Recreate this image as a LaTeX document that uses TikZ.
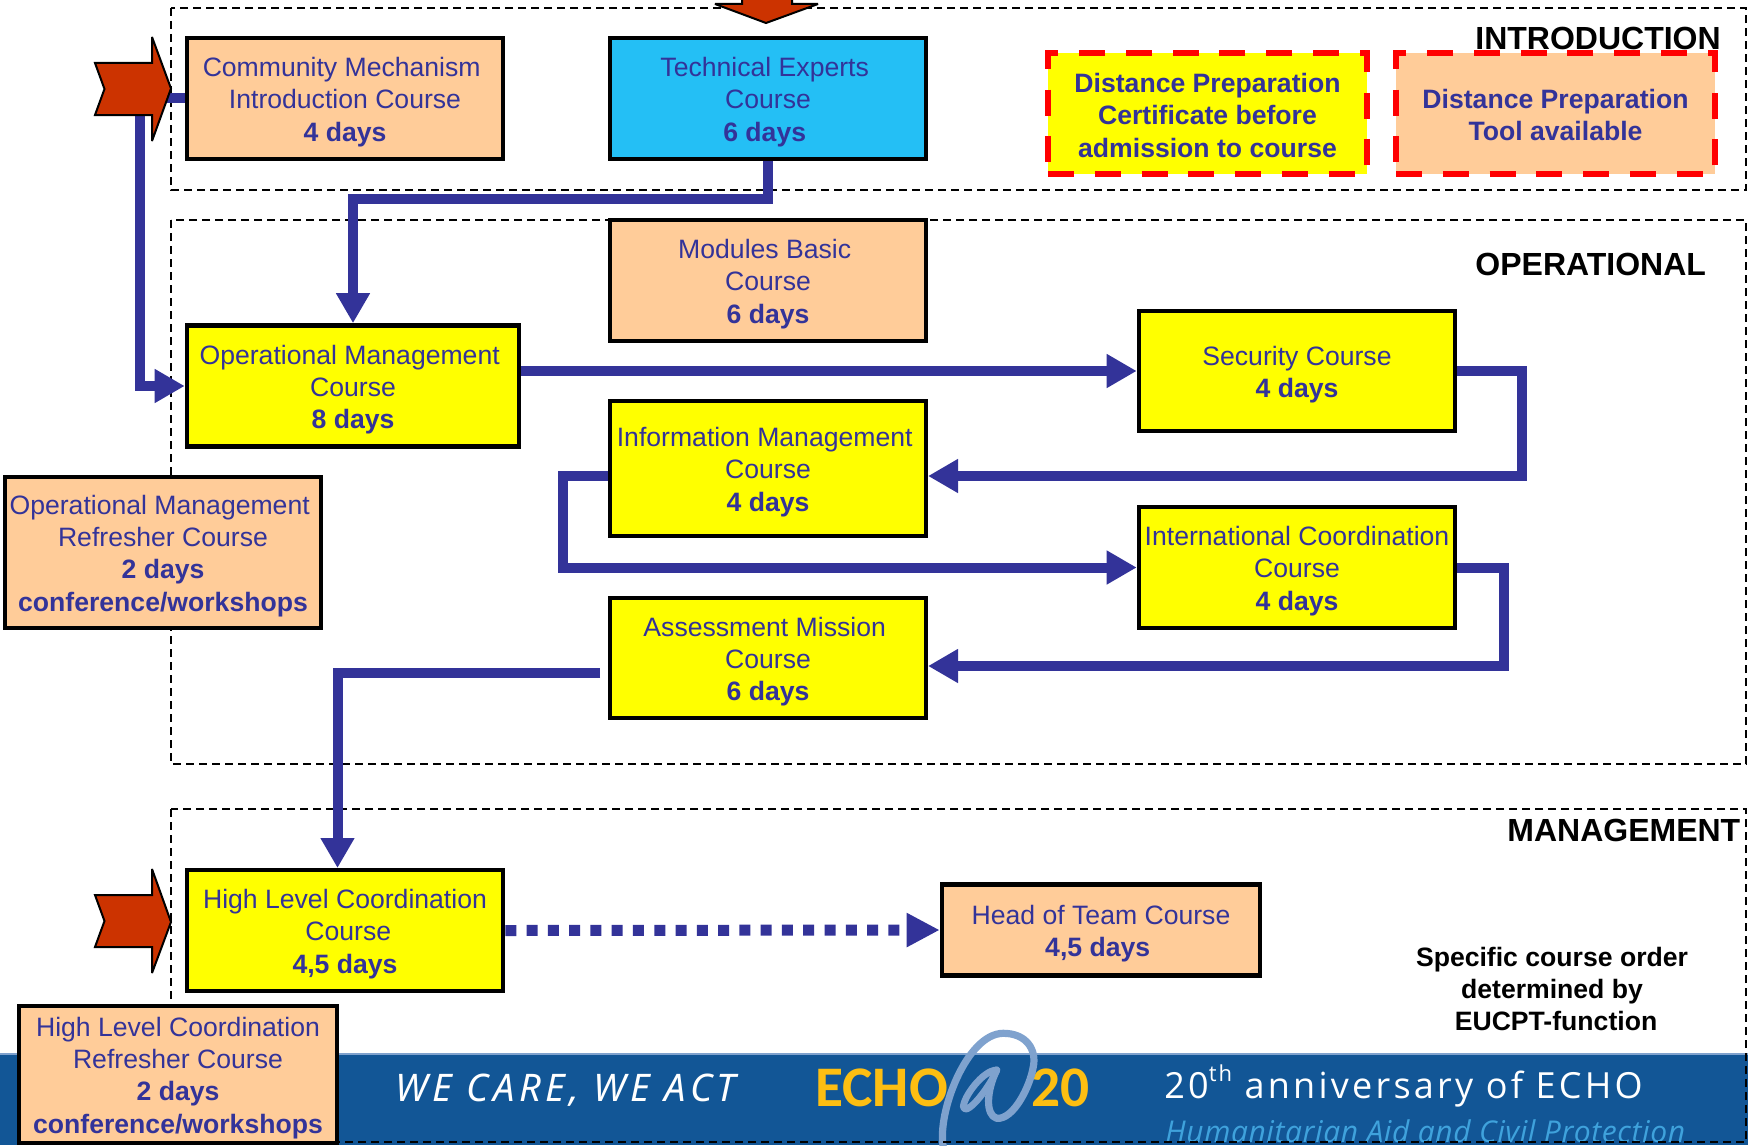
\documentclass[tikz,border=0pt]{standalone}
\usepackage{fontspec}
\setmainfont{Liberation Sans}
\newfontfamily\ospen{Open Sans}[LetterSpace=9]
\newfontfamily\ospit{Open Sans}[LetterSpace=2,ItalicFont=* Italic]
\newfontfamily\wecare{Noto Sans}[LetterSpace=12]
\newfontfamily\echofont{Carlito}
\usetikzlibrary{arrows.meta,calc}
\definecolor{txtblue}{HTML}{333399}
\definecolor{peach}{HTML}{FFCC99}
\definecolor{skyb}{HTML}{24BFF5}
\definecolor{redar}{HTML}{CC3300}
\definecolor{bannerb}{HTML}{125696}
\definecolor{echoy}{HTML}{FDBE12}
\definecolor{atblue}{HTML}{7FA2CE}
\definecolor{humb}{HTML}{3FA2DC}
\definecolor{boxyel}{rgb}{1,1,0}
\definecolor{dashred}{rgb}{1,0,0}
\newcommand{\lft}{\hspace*{3.3pt}}
\newcommand{\ts}{\rule{0pt}{13.1pt}}
\newcommand{\tss}{\rule{0pt}{11.5pt}}
\tikzset{
 x=0.5pt,y=-0.5pt,
 course/.style={draw=black,line width=2.3pt,inner sep=0pt,align=center,text=txtblue,
   font=\fontsize{13.3}{16.1}\selectfont,minimum width=158pt,minimum height=60.5pt},
 distbox/.style={draw=dashred,line width=2.8pt,dash pattern=on 13pt off 10.4pt,inner sep=0pt,align=center,text=txtblue,
   font=\fontsize{13.3}{16.1}\selectfont\bfseries,minimum width=159.5pt,minimum height=60.5pt},
 region/.style={draw=black,line width=0.75pt,dash pattern=on 4pt off 2.5pt},
 flow/.style={draw=txtblue,line width=5pt,-{Triangle[length=15pt,width=16pt]}},
 flowdot/.style={draw=txtblue,line width=5.5pt,dash pattern=on 5.5pt off 5.14pt,-{Triangle[length=16.5pt,width=16pt]}},
 redarrow/.style={draw=black,line width=1pt,fill=redar,line join=miter,miter limit=3},
 heading/.style={font=\fontsize{16}{18}\selectfont\bfseries,inner sep=0pt,anchor=base west},
}
\begin{document}
\begin{tikzpicture}
\useasboundingbox (0,0) rectangle (1748,1145);
\begin{scope}
\clip (0,0) rectangle (1748,1145);
% banner
\fill[bannerb] (0,1054) rectangle (1748,1145);
\draw[line width=0.6pt,color=atblue] (0,1054) -- (1748,1054);
\node[anchor=base west,inner sep=0pt,text=white,font=\wecare\itshape\fontsize{19}{22}\selectfont] (care) at (395,1101) {WE CARE, WE ACT};
\node[anchor=base west,inner sep=0pt,text=echoy,font=\echofont\fontsize{28.7}{30}\selectfont\bfseries] (echo) at (815,1106) {ECHO};
\node[anchor=base west,inner sep=0pt,text=echoy,font=\echofont\fontsize{28.7}{30}\selectfont\bfseries] (twenty) at (1031,1106) {20};
% @ sign
\begin{scope}[line cap=round,line join=round]
\draw[atblue,line width=3.6pt] (943.3,1147) .. controls (936.7,1113.3) and (966.7,1033.3) .. (1003.3,1033.3) .. controls (1026.7,1033.3) and (1036.7,1050) .. (1033.3,1066.7) .. controls (1030,1086.7) and (1013.3,1120) .. (996.7,1118.3) .. controls (985,1115) and (986.7,1090) .. (996.7,1070);
\draw[atblue,line width=3.4pt] (996.7,1070) .. controls (983.3,1070) and (963.3,1096.7) .. (963.3,1107.3) .. controls (966.7,1116.7) and (990,1086.7) .. (996.7,1070);
\end{scope}
\node[anchor=base west,inner sep=0pt,text=white,font=\ospen\fontsize{18}{21}\selectfont] (anniv) at (1164,1098) {20\raisebox{0.45em}{\fontsize{11}{12}\selectfont th} anniversary of ECHO};
\node[anchor=base west,inner sep=0pt,text=humb,font=\ospit\itshape\fontsize{15}{18}\selectfont] (hum) at (1165,1142) {Humanitarian Aid and Civil Protection};
\end{scope}
% regions
\draw[region] (171,8) rectangle (1746,190);
\draw[region] (171,220) rectangle (1746,764);
\draw[region] (171,809) rectangle (1746,1142);
% headings
\node[heading] (hintro) at (1475,49.5) {INTRODUCTION};
\node[heading] (hop) at (1475,275) {OPERATIONAL};
\node[heading] (hmg) at (1507,841) {MANAGEMENT};
% course boxes
\node[course,fill=peach] (comm) at (345,98.5) {\ts Community Mechanism\lft\\Introduction Course\\\textbf{4 days}};
\node[course,fill=skyb] (tech) at (768,98.5) {\ts Technical Experts\lft\\Course\\\textbf{6 days}\lft};
\node[course,fill=peach] (mod) at (768,280.5) {\ts Modules Basic\lft\\Course\\\textbf{6 days}};
\node[course,fill=boxyel,minimum width=166pt] (opm) at (353,386) {\ts Operational Management\lft\\Course\\\textbf{8 days}};
\node[course,fill=boxyel,minimum height=67.5pt] (info) at (768,468.5) {\ts Information Management\lft\\Course\\\textbf{4 days}};
\node[course,fill=boxyel,minimum height=60pt] (sec) at (1297,371) {\ts Security Course\\\textbf{4 days}};
\node[course,fill=boxyel] (intl) at (1297,567.5) {\ts International Coordination\\Course\\\textbf{4 days}};
\node[course,fill=boxyel,minimum height=60pt] (ass) at (768,658) {\ts Assessment Mission\lft\\Course\\\textbf{6 days}};
\node[course,fill=boxyel] (hl) at (345,930.5) {\ts High Level Coordination\\\lft Course\\\textbf{4,5 days}};
\node[course,fill=peach,minimum width=159pt,minimum height=45.5pt] (head) at (1101,930) {\ts Head of Team Course\\\textbf{4,5 days}\lft};
\node[course,fill=peach,minimum height=75.5pt] (oprf) at (163,552.5) {\ts Operational Management\lft\\Refresher Course\\\textbf{2 days}\lft\\\textbf{conference/workshops}};
\node[course,fill=peach,minimum width=159pt,minimum height=68.5pt] (hlrf) at (178,1074.5) {\ts High Level Coordination\\Refresher Course\\\textbf{2 days}\\\textbf{conference/workshops}};
\node[distbox,fill=boxyel] (dist1) at (1207.5,113.5) {\tss Distance Preparation\\Certificate before\\admission to course};
\node[distbox,fill=peach] (dist2) at (1555.5,113.5) {\tss Distance Preparation\\Tool available};
\node[inner sep=0pt,align=center,font=\fontsize{13.3}{16.1}\selectfont\bfseries] (note) at (1552,989) {Specific course order\\determined by\\\hspace*{4pt}EUCPT-function};
% connectors
\coordinate (bendA) at (140,98.5);
\coordinate (infoin) at (928,476);
\coordinate (infoout) at (608,476);
\coordinate (assin) at (928,666);
\coordinate (assout) at (600,673);
\coordinate (hltop) at (337.5,868);
\draw[flow] (comm.west) -- (bendA) |- (opm.west);
\draw[flow] (tech.south) |- (353,199) -- (opm.north);
\draw[flow] (opm.east |- sec.west) -- (sec.west);
\draw[flow] (sec.east) -| (1522,476) -- (infoin);
\draw[flow] (infoout) -| (563,567.5) -- (intl.west);
\draw[flow] (intl.east) -| (1504,666) -- (assin);
\draw[flow] (assout) -| (hltop);
\draw[flowdot] (hl.east) -- (head.west);
% red arrows
\draw[redarrow] (95,63) -- (152,63) -- (152,37) -- (171,88.5) -- (152,141) -- (152,115) -- (95,115) -- (104.5,89) -- cycle;
\draw[redarrow] (95,895) -- (152,895) -- (152,869) -- (171,922) -- (152,973) -- (152,947) -- (95,947) -- (104.5,921) -- cycle;
\draw[redarrow] (742,-3) -- (742,4) -- (715,4) -- (766,23) -- (818,4) -- (792,4) -- (792,-3) -- cycle;
\end{tikzpicture}
\end{document}
